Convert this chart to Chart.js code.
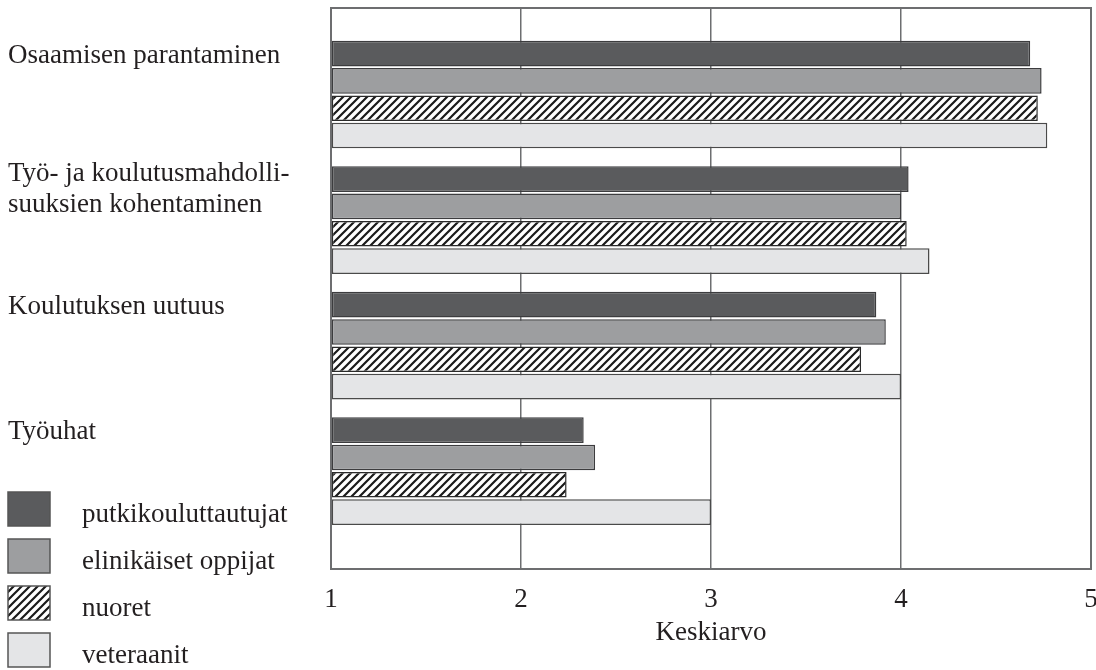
<!DOCTYPE html>
<html>
<head>
<meta charset="utf-8">
<script src="https://cdn.jsdelivr.net/npm/chart.js@4.4.0/dist/chart.umd.min.js"></script>
<style>
    html, body { margin: 0; padding: 0; background: #fff; }
    #wrap { width: 1096px; height: 670px; }
</style>
</head>
<body>
<div id="wrap"><canvas id="myChart" width="1096" height="670"></canvas></div>
<script>
const categories = [
    ['Osaamisen parantaminen'],
    ['Työ- ja koulutusmahdolli-', 'suuksien kohentaminen'],
    ['Koulutuksen uutuus'],
    ['Työuhat']
];
const seriesNames = ['putkikouluttautujat', 'elinikäiset oppijat', 'nuoret', 'veteraanit'];
const putkiValues = [4.68, 4.04, 3.87, 2.33];
const elinikaisetValues = [4.74, 4.00, 3.92, 2.39];
const nuoretValues = [4.72, 4.03, 3.79, 2.24];
const veteraanitValues = [4.77, 4.15, 4.00, 3.00];
const xTicks = [1, 2, 3, 4, 5];

const FONT = '"Liberation Serif", "DejaVu Serif", serif';
const TEXT = '#231f20';

function hatchPattern () {
    const c = document.createElement('canvas');
    c.width = 8;
    c.height = 8;
    const g = c.getContext('2d');
    g.fillStyle = '#fff';
    g.fillRect(0, 0, 8, 8);
    g.strokeStyle = '#1a1a1a';
    g.lineWidth = 2.2;
    g.beginPath();
    g.moveTo(-1, 9); g.lineTo(9, -1);
    g.moveTo(-1, 1); g.lineTo(1, -1);
    g.moveTo(7, 9); g.lineTo(9, 7);
    g.stroke();
    return g.createPattern(c, 'repeat');
}

function toPoints (values) {
    return values.map((v, i) => ({ x: v, y: i }));
}

const hatch = hatchPattern();

const datasets = [
    { label: seriesNames[0], data: toPoints(putkiValues), backgroundColor: '#5a5b5d', borderColor: '#3c3c3e' },
    { label: seriesNames[1], data: toPoints(elinikaisetValues), backgroundColor: '#9d9ea0', borderColor: '#3c3c3e' },
    { label: seriesNames[2], data: toPoints(nuoretValues), backgroundColor: hatch, borderColor: '#2a2a2a' },
    { label: seriesNames[3], data: toPoints(veteraanitValues), backgroundColor: '#e4e5e7', borderColor: '#4a4a4a' }
].map(ds => Object.assign(ds, {
    base: 1,
    borderWidth: 1.5,
    borderSkipped: false,
    categoryPercentage: 0.87,
    barPercentage: 0.94
}));

// category names at the left, lined up with the first bar of each group
const sideLabels = {
    id: 'sideLabels',
    afterDraw (chart) {
        const ctx = chart.ctx;
        const meta = chart.getDatasetMeta(0);
        ctx.save();
        ctx.fillStyle = TEXT;
        ctx.font = '27px ' + FONT;
        ctx.textAlign = 'left';
        ctx.textBaseline = 'middle';
        categories.forEach((lines, i) => {
            const y0 = meta.data[i].y + 2 - (lines.length - 1) * 7;
            lines.forEach((line, k) => ctx.fillText(line, 8, y0 + k * 31));
        });
        ctx.restore();
    }
};

// frame round the plot
const frame = {
    id: 'frame',
    afterDatasetsDraw (chart) {
        const a = chart.chartArea;
        const ctx = chart.ctx;
        ctx.save();
        ctx.strokeStyle = '#6d6e70';
        ctx.lineWidth = 2;
        ctx.strokeRect(a.left, a.top, a.right - a.left, a.bottom - a.top);
        ctx.restore();
    }
};

// legend in the lower left corner
const sideLegend = {
    id: 'sideLegend',
    afterDraw (chart) {
        const ctx = chart.ctx;
        ctx.save();
        chart.data.datasets.forEach((ds, i) => {
            const top = 492 + i * 47;
            ctx.fillStyle = ds.backgroundColor;
            ctx.fillRect(8, top, 42, 34);
            ctx.strokeStyle = '#555';
            ctx.lineWidth = 1.5;
            ctx.strokeRect(8, top, 42, 34);
            ctx.fillStyle = TEXT;
            ctx.font = '27px ' + FONT;
            ctx.textAlign = 'left';
            ctx.textBaseline = 'middle';
            ctx.fillText(ds.label, 82, 515 + i * 47);
        });
        ctx.restore();
    }
};

const config = {
    type: 'bar',
    data: { datasets },
    options: {
        indexAxis: 'y',
        responsive: false,
        animation: false,
        layout: { padding: { left: 331, right: 5, top: 8, bottom: 21 } },
        plugins: {
            legend: { display: false },
            tooltip: { enabled: false }
        },
        scales: {
            x: {
                type: 'linear',
                min: 1,
                max: 5,
                afterBuildTicks: axis => { axis.ticks = xTicks.map(v => ({ value: v })); },
                afterFit: axis => {
                    axis.height = 80;
                    axis.paddingRight = 0;
                    axis.paddingLeft = 0;
                },
                grid: { color: '#6d6e70', lineWidth: 1.5, drawTicks: false },
                border: { display: false },
                ticks: { color: TEXT, font: { family: FONT, size: 27 }, padding: 15, maxRotation: 0 },
                title: {
                    display: true,
                    text: 'Keskiarvo',
                    color: TEXT,
                    font: { family: FONT, size: 27 },
                    padding: { top: 0, bottom: 0 }
                }
            },
            y: {
                type: 'linear',
                reverse: true,
                offset: false,
                min: -0.69,
                max: 3.78,
                display: false,
                afterBuildTicks: axis => { axis.ticks = categories.map((c, i) => ({ value: i })); }
            }
        }
    },
    plugins: [frame, sideLabels, sideLegend]
};

const myChart = new Chart(document.getElementById('myChart'), config);
</script>
</body>
</html>
